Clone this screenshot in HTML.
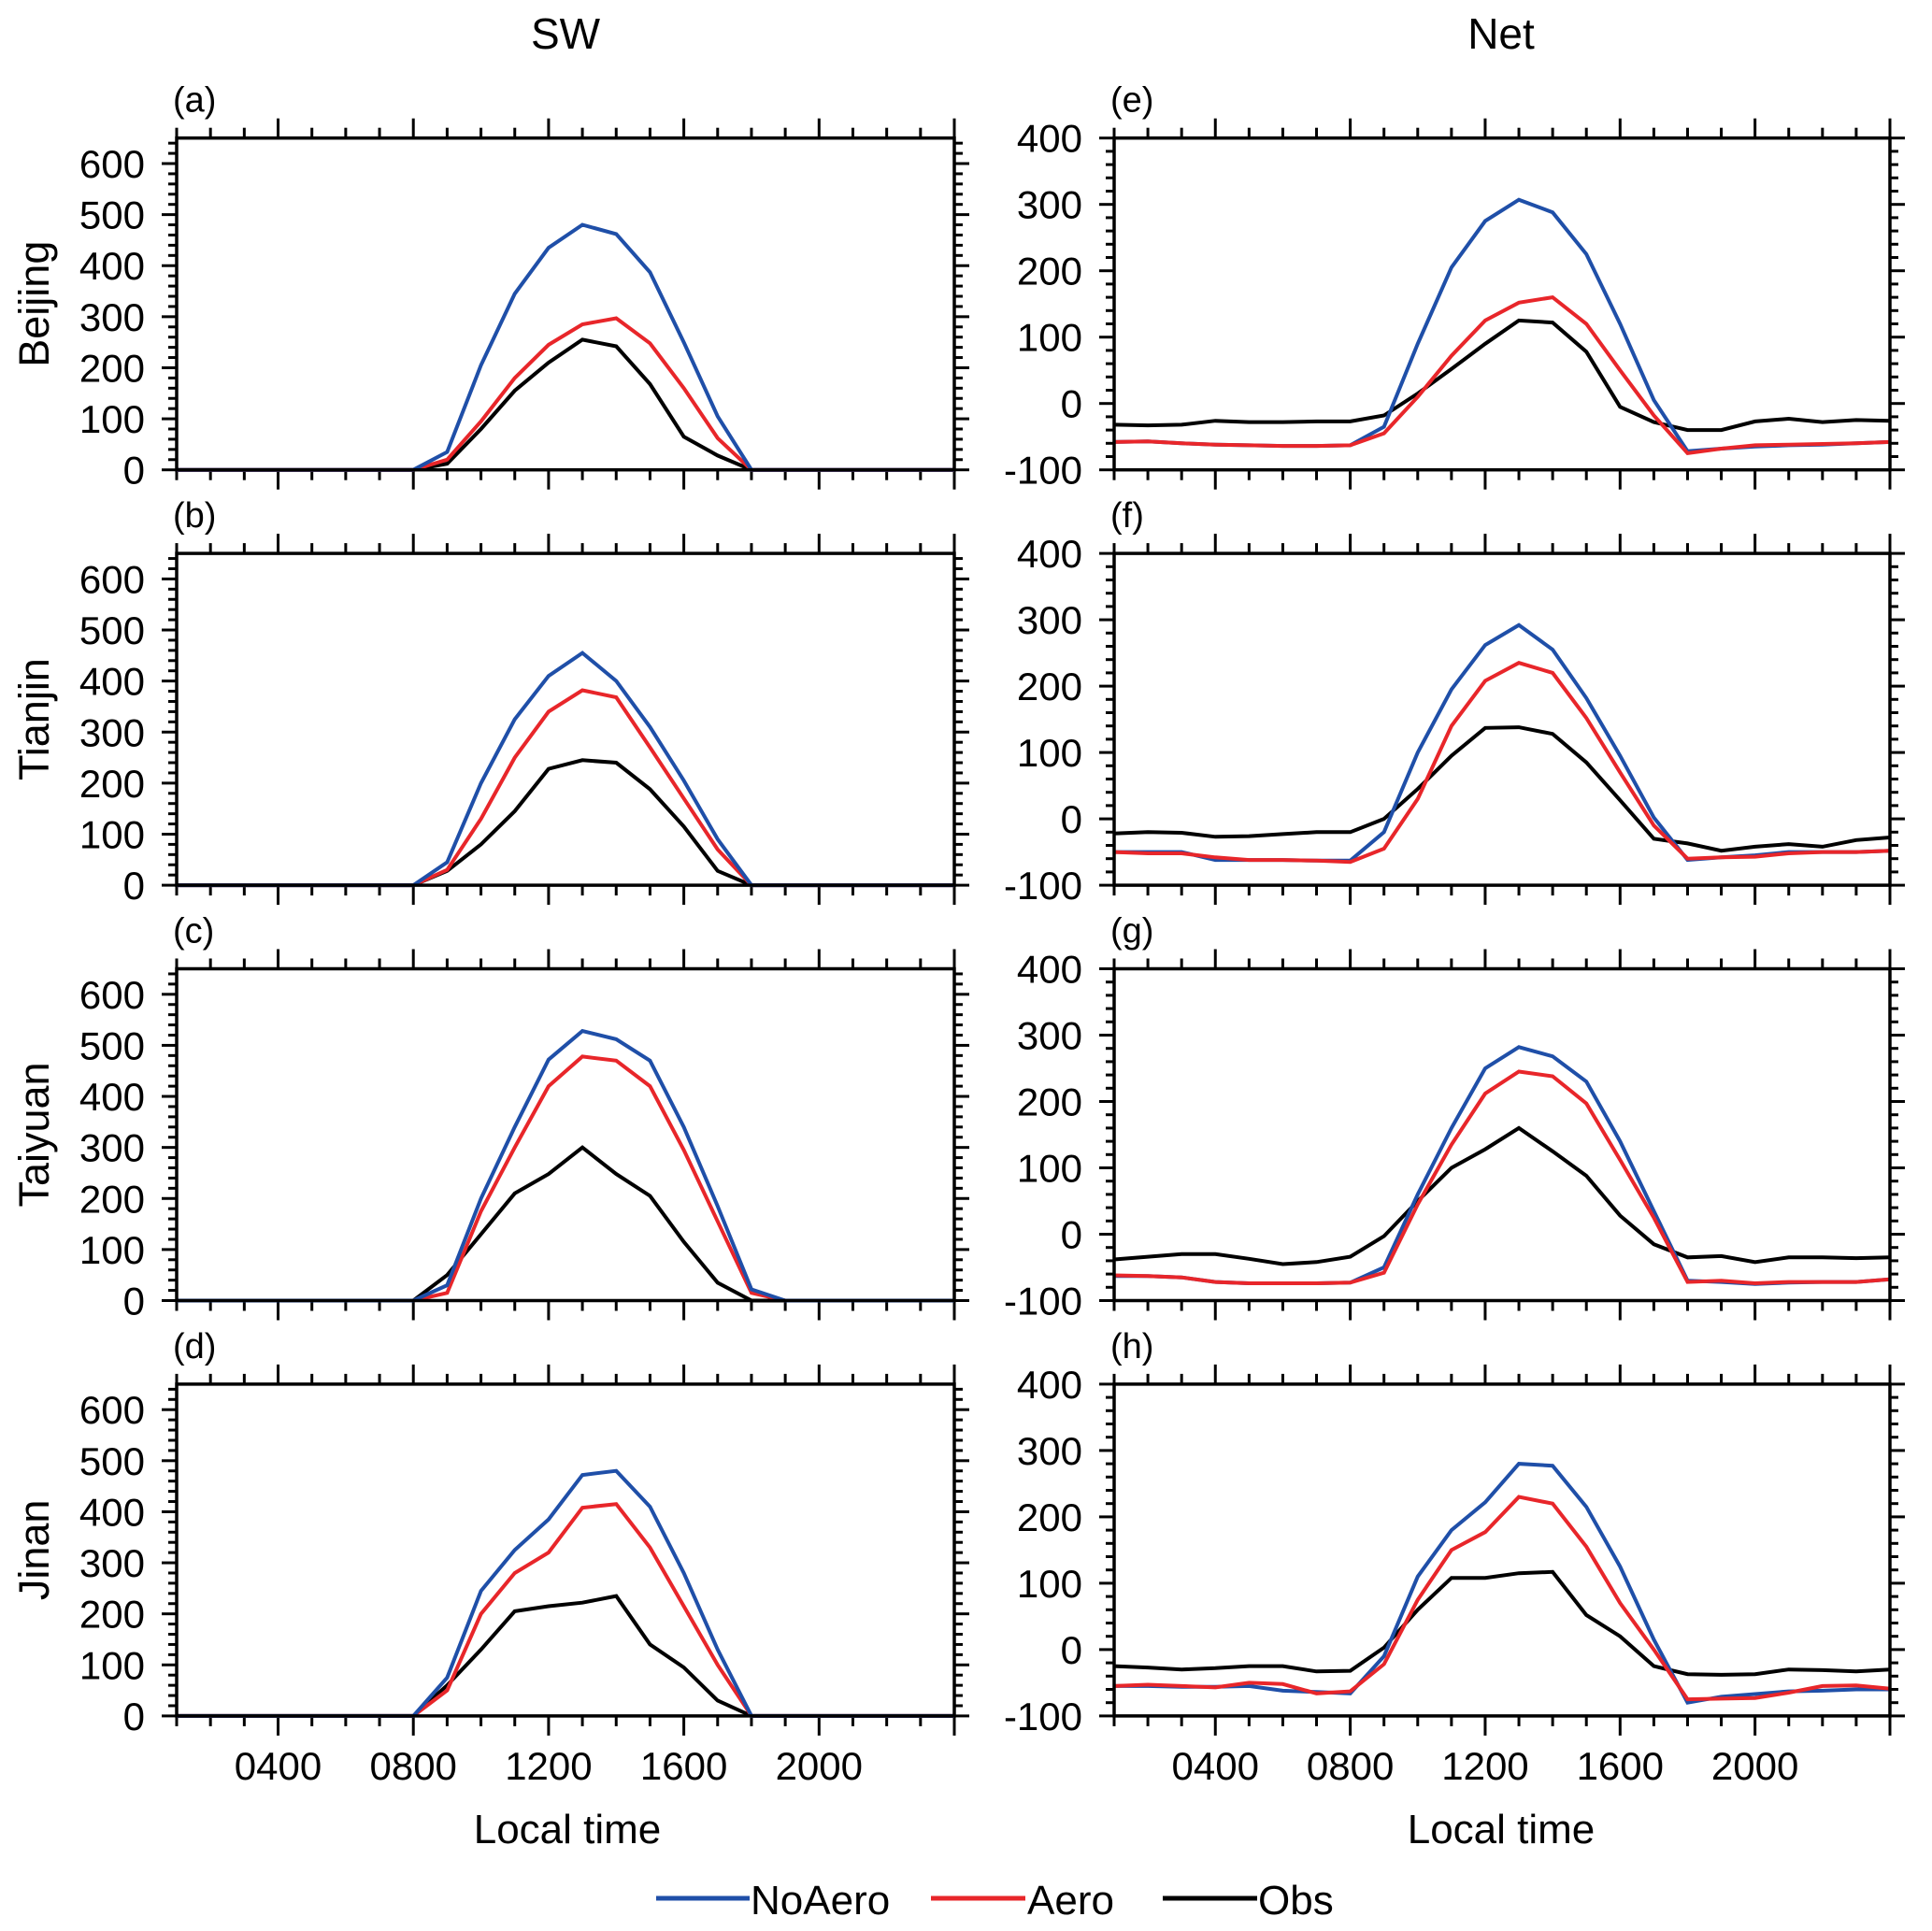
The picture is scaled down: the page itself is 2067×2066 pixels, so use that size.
<!DOCTYPE html>
<html><head><meta charset="utf-8"><style>
html,body{margin:0;padding:0;background:#fff;}
svg{display:block;font-family:"Liberation Sans",sans-serif;}
</style></head><body>
<svg id="fig" width="2067" height="2066" viewBox="0 0 2067 2066" xmlns="http://www.w3.org/2000/svg">
<rect width="2067" height="2066" fill="#fff"/>
<text x="605" y="52" font-size="46" text-anchor="middle">SW</text>
<text x="1606" y="52" font-size="46" text-anchor="middle">Net</text>
<text x="607" y="1972" font-size="44" text-anchor="middle">Local time</text>
<text x="1606" y="1972" font-size="44" text-anchor="middle">Local time</text>
<g>
<line x1="702" y1="2031" x2="802" y2="2031" stroke="#1f4fa8" stroke-width="5"/>
<text x="803" y="2048" font-size="44">NoAero</text>
<line x1="996" y1="2031" x2="1097" y2="2031" stroke="#e8262a" stroke-width="5"/>
<text x="1099" y="2048" font-size="44">Aero</text>
<line x1="1244" y1="2031" x2="1345" y2="2031" stroke="#000" stroke-width="5"/>
<text x="1346" y="2048" font-size="44">Obs</text>
</g>
</svg>
<script>
const hours = [1,2,3,4,5,6,7,8,9,10,11,12,13,14,15,16,17,18,19,20,21,22,23,24];
const xTickValues = [4,8,12,16,20];
const xTickLabels = ["0400","0800","1200","1600","2000"];
const swTicks = [0,100,200,300,400,500,600];
const netTicks = [-100,0,100,200,300,400];
const panelLetters = ["a","b","c","d","e","f","g","h"];
const cities = ["Beijing","Tianjin","Taiyuan","Jinan"];
const z8 = [0,0,0,0,0,0,0,0];
const z6 = [0,0,0,0,0,0];
const swNoAero = [
 z8.concat([35,205,345,435,480,462,387,250,105,0]).concat(z6),
 z8.concat([45,200,325,410,455,400,310,205,90,0]).concat(z6),
 z8.concat([30,200,340,472,528,512,470,340,185,22,0]).concat([0,0,0,0,0]),
 z8.concat([75,245,325,385,472,480,410,280,130,0]).concat(z6)
];
const swAero = [
 z8.concat([20,95,180,245,285,297,248,160,62,0]).concat(z6),
 z8.concat([30,130,250,340,382,368,270,170,70,0]).concat(z6),
 z8.concat([15,175,300,420,478,470,420,295,155,15,0]).concat([0,0,0,0,0]),
 z8.concat([50,200,280,320,408,415,330,215,100,0]).concat(z6)
];
const swObs = [
 z8.concat([12,80,155,210,255,242,168,65,28,0]).concat(z6),
 z8.concat([28,80,145,228,245,240,188,115,28,0]).concat(z6),
 z8.concat([50,130,210,248,300,248,205,115,35,0,0]).concat([0,0,0,0,0]),
 z8.concat([60,130,205,215,222,235,140,95,30,0]).concat(z6)
];
const netNoAero = [
 [-58,-57,-60,-62,-63,-64,-64,-63,-35,90,205,275,307,288,225,120,5,-72,-68,-65,-63,-62,-60,-58],
 [-50,-50,-50,-62,-62,-62,-63,-63,-20,100,195,262,292,255,182,95,2,-62,-58,-55,-50,-50,-50,-48],
 [-63,-63,-65,-72,-74,-74,-74,-73,-50,60,160,250,282,268,230,140,35,-70,-72,-75,-73,-72,-72,-68],
 [-55,-55,-56,-56,-55,-62,-64,-66,-10,110,180,222,280,277,215,125,15,-80,-71,-67,-63,-62,-60,-60]
];
const netAero = [
 [-58,-57,-60,-62,-63,-64,-64,-63,-45,10,72,125,152,160,120,50,-18,-75,-68,-63,-62,-61,-60,-58],
 [-50,-52,-52,-58,-62,-62,-63,-65,-45,30,140,208,235,220,152,70,-10,-60,-58,-57,-52,-50,-50,-48],
 [-62,-63,-65,-72,-74,-74,-74,-73,-58,45,135,212,245,238,197,112,25,-72,-70,-74,-72,-72,-72,-68],
 [-55,-53,-55,-57,-50,-52,-66,-63,-22,75,150,177,230,220,155,70,0,-75,-74,-73,-65,-55,-54,-59]
];
const netObs = [
 [-32,-33,-32,-26,-28,-28,-27,-27,-18,15,52,90,125,122,78,-5,-28,-40,-40,-27,-23,-28,-25,-26],
 [-22,-20,-21,-27,-26,-23,-20,-20,0,45,95,137,138,128,85,28,-30,-37,-48,-42,-38,-42,-32,-28],
 [-38,-34,-30,-30,-37,-45,-42,-34,-3,50,100,128,160,125,88,28,-15,-35,-33,-42,-35,-35,-36,-35],
 [-25,-27,-30,-28,-25,-25,-33,-32,3,60,108,108,115,117,52,20,-25,-37,-38,-37,-30,-31,-33,-30]
];

const NS="http://www.w3.org/2000/svg";
const svg=document.getElementById('fig');
function mk(tag,attrs,parent){const e=document.createElementNS(NS,tag);for(const k in attrs)e.setAttribute(k,attrs[k]);(parent||svg).appendChild(e);return e;}
const cols=[{x0:189,x1:1021},{x0:1192,x1:2022}];
const rowTop=147.7, rowH=355, rowStep=444.4;
for(let c=0;c<2;c++){
 for(let r=0;r<4;r++){
  const X0=cols[c].x0,X1=cols[c].x1,Y0=rowTop+r*rowStep,Y1=Y0+rowH;
  const ymin=c===0?0:-100, ymax=c===0?650:400;
  const xs=h=>X0+(h-1)/23*(X1-X0);
  const ys=v=>Y1-(v-ymin)/(ymax-ymin)*(Y1-Y0);
  const g=mk('g',{});
  
  
  const tg=mk('g',{stroke:'#000','stroke-width':3},g);
  for(let h=1;h<=24;h++){
   const major=(h%4===0);const L=major?21:11;const x=xs(h);
   mk('line',{x1:x,y1:Y0,x2:x,y2:Y0-L},tg);
   mk('line',{x1:x,y1:Y1,x2:x,y2:Y1+L},tg);
  }
  for(let v=ymin;v<=ymax;v+=20){
   const major=(v%100===0);const L=major?16:9;const y=ys(v);
   mk('line',{x1:X0,y1:y,x2:X0-L,y2:y},tg);
   mk('line',{x1:X1,y1:y,x2:X1+L,y2:y},tg);
  }
  const yt=c===0?swTicks:netTicks;
  yt.forEach(v=>{const t=mk('text',{x:X0-34,y:ys(v)+15,'font-size':42,'text-anchor':'end'},g);t.textContent=v;
   
   });
  if(r===3){xTickValues.forEach((h,i)=>{const t=mk('text',{x:xs(h),y:1904,'font-size':42,'text-anchor':'middle'},g);t.textContent=xTickLabels[i];
   
   });}
  const pl=mk('text',{x:X0-4,y:Y0-28,'font-size':38},g);pl.textContent='('+panelLetters[c*4+r]+')';
  
  
  if(c===0){const cy=(Y0+Y1)/2;const t=mk('text',{x:0,y:0,'font-size':45,'text-anchor':'middle',transform:'translate(52,'+cy+') rotate(-90)'},g);t.textContent=cities[r];
   
   }
  const series=c===0?[[swNoAero[r],'#1f4fa8','noaero'],[swAero[r],'#e8262a','aero'],[swObs[r],'#000','obs']]
                    :[[netNoAero[r],'#1f4fa8','noaero'],[netAero[r],'#e8262a','aero'],[netObs[r],'#000','obs']];
  const order=c===0?[2,1,0]:[2,0,1];
  order.forEach(i=>{const s=series[i];const pts=hours.map((h,k)=>xs(h).toFixed(1)+','+ys(s[0][k]).toFixed(1)).join(' ');
   const p=mk('polyline',{points:pts,fill:'none',stroke:s[1],'stroke-width':4,'stroke-linejoin':'miter'},g);
   
   });
  const fr=mk('rect',{x:X0,y:Y0,width:X1-X0,height:Y1-Y0,fill:'none',stroke:'#000','stroke-width':3.5},g);
  
  
 }
}
</script>
</body></html>
